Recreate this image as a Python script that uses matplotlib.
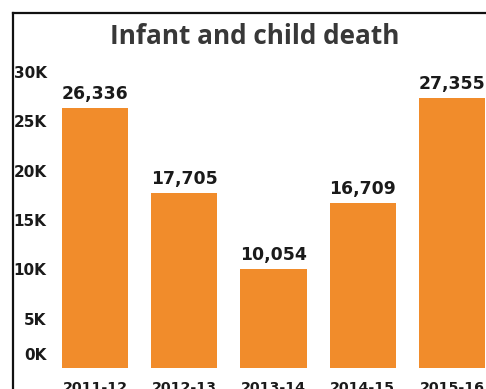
import matplotlib.pyplot as plt
from matplotlib.lines import Line2D
import matplotlib.transforms as mtransforms

years = ["2011-12", "2012-13", "2013-14", "2014-15", "2015-16"]
deaths = [26336, 17705, 10054, 16709, 27355]
yticks = [0, 5000, 10000, 15000, 20000, 25000, 30000]
ytick_labels = ["0K", "5K", "10K", "15K", "20K", "25K", "30K"]

W, H = 486, 389
bar_color = "#F18C2B"
text_color = "#1a1a1a"

fig = plt.figure(figsize=(W / 100, H / 100), dpi=100)
fig.patch.set_facecolor("white")

# axes placed in pixel units: x from 50 to 486, y zero at 368, 30K at 72
ax_left, ax_right = 50, 486
y0, y30 = 368, 72
ax = fig.add_axes([ax_left / W, (H - y0) / H, (ax_right - ax_left) / W, (y0 - y30) / H])

step = 89.25
c0 = 95
ax.set_xlim((ax_left - c0) / step, (ax_right - c0) / step)
ax.set_ylim(0, 30000)

x = range(len(years))
bars = ax.bar(x, deaths, width=0.74, color=bar_color, edgecolor="none")

for xi, v in zip(x, deaths):
    ax.annotate(f"{v:,}", (xi, v), xytext=(0, 3.5), textcoords="offset points",
                ha="center", va="bottom", fontsize=12.4, fontweight="bold", color=text_color)

ax.set_yticks(yticks)
ax.set_yticklabels(ytick_labels)
ax.set_xticks(list(x))
ax.set_xticklabels(years)
ax.tick_params(axis="y", length=0, pad=2.5, labelsize=11, labelcolor=text_color)
ax.tick_params(axis="x", length=0, pad=9, labelsize=10.3, labelcolor=text_color)
for lab in ax.get_yticklabels() + ax.get_xticklabels():
    lab.set_fontweight("bold")
# the 0K label sits a bit above the baseline
zero = ax.get_yticklabels()[0]
zero.set_transform(zero.get_transform() + mtransforms.ScaledTranslation(0, 10 / 72, fig.dpi_scale_trans))

for s in ax.spines.values():
    s.set_visible(False)
ax.set_facecolor("none")

# frame lines along the top and left edges
fig.add_artist(Line2D([13 / W, 1], [1 - 13 / H, 1 - 13 / H], color="#111111", lw=1.6))
fig.add_artist(Line2D([13 / W, 13 / W], [0, 1 - 13 / H], color="#111111", lw=1.6))

fig.text(255 / W, 1 - 36 / H, "Infant and child death", ha="center", va="center",
         fontsize=18.8, fontweight="bold", family="Open Sans", color="#383838")

fig.savefig("out.png", dpi=100)
